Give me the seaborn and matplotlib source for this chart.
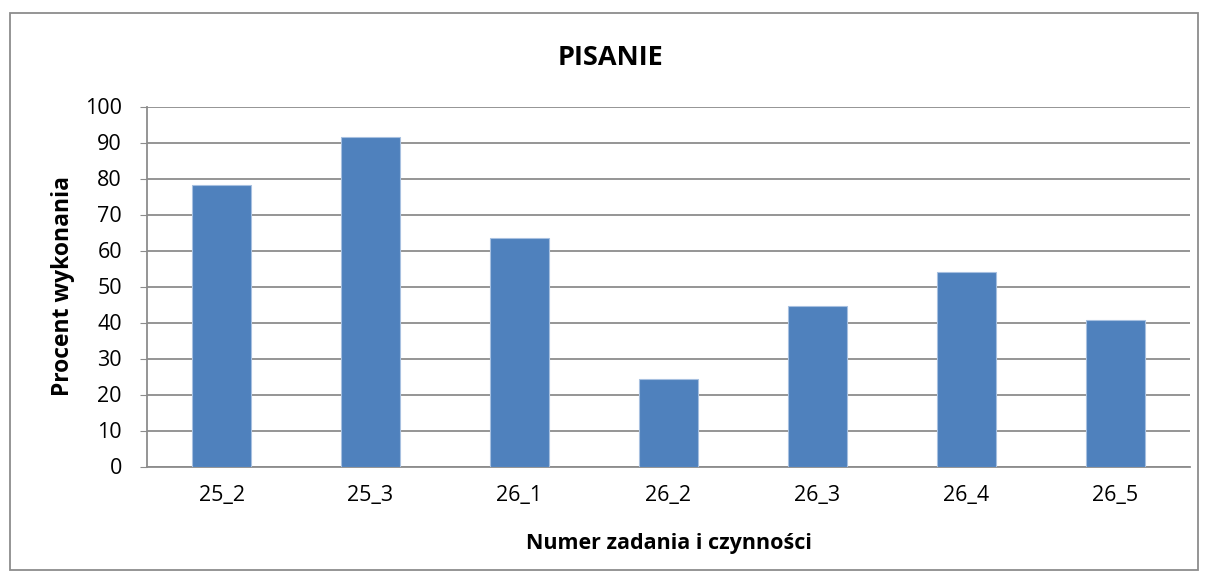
import matplotlib
matplotlib.use('Agg')
import matplotlib.pyplot as plt
import seaborn as sns
import pandas as pd
from matplotlib.patches import Rectangle

categories = ['25_2', '25_3', '26_1', '26_2', '26_3', '26_4', '26_5']
values = [78.1, 91.4, 63.6, 24.3, 44.7, 54.1, 40.7]

df = pd.DataFrame({'zadanie': categories, 'procent': values})

sns.set_style('white')
plt.rcParams['font.family'] = ['Open Sans', 'DejaVu Sans']
plt.rcParams['text.color'] = 'black'
plt.rcParams['axes.labelcolor'] = 'black'
plt.rcParams['xtick.color'] = 'black'
plt.rcParams['ytick.color'] = 'black'

fig = plt.figure(figsize=(12.06, 5.81), dpi=100)
ax = fig.add_axes([147 / 1206, 1 - 466.5 / 581, (1190 - 147) / 1206, 360 / 581])

sns.barplot(data=df, x='zadanie', y='procent', color='#4F81BD', width=0.4,
            saturation=1, ax=ax, zorder=3, edgecolor='#a7c0e0', linewidth=0.8)

ax.set_ylim(0, 100)
ax.set_yticks(range(0, 101, 10))
ax.yaxis.grid(True, color='#8c8c8c', linewidth=1.3, zorder=0)
ax.set_axisbelow(True)
for s in ['top', 'right']:
    ax.spines[s].set_visible(False)
for s in ['left', 'bottom']:
    ax.spines[s].set_color('#8c8c8c')
    ax.spines[s].set_linewidth(1.3)
ax.tick_params(axis='y', left=True, length=5, color='#8c8c8c', labelsize=15.5,
               labelcolor='black', pad=13)
ax.tick_params(axis='x', bottom=False, labelsize=15.5, labelcolor='black', pad=10)

ax.set_xlabel('Numer zadania i czynności', fontsize=15.5, fontweight='bold', labelpad=19)
ax.set_ylabel('Procent wykonania', fontsize=16.5, fontweight='bold', labelpad=7)
ax.set_title('PISANIE', fontsize=19.5, fontweight='bold', pad=30, x=0.444)

fig.patches.append(Rectangle((10 / 1206, 11 / 581), 1188 / 1206, 557 / 581,
                             transform=fig.transFigure, fill=False,
                             edgecolor='#8c8c8c', linewidth=1.3))

fig.savefig('out.png', dpi=100)
